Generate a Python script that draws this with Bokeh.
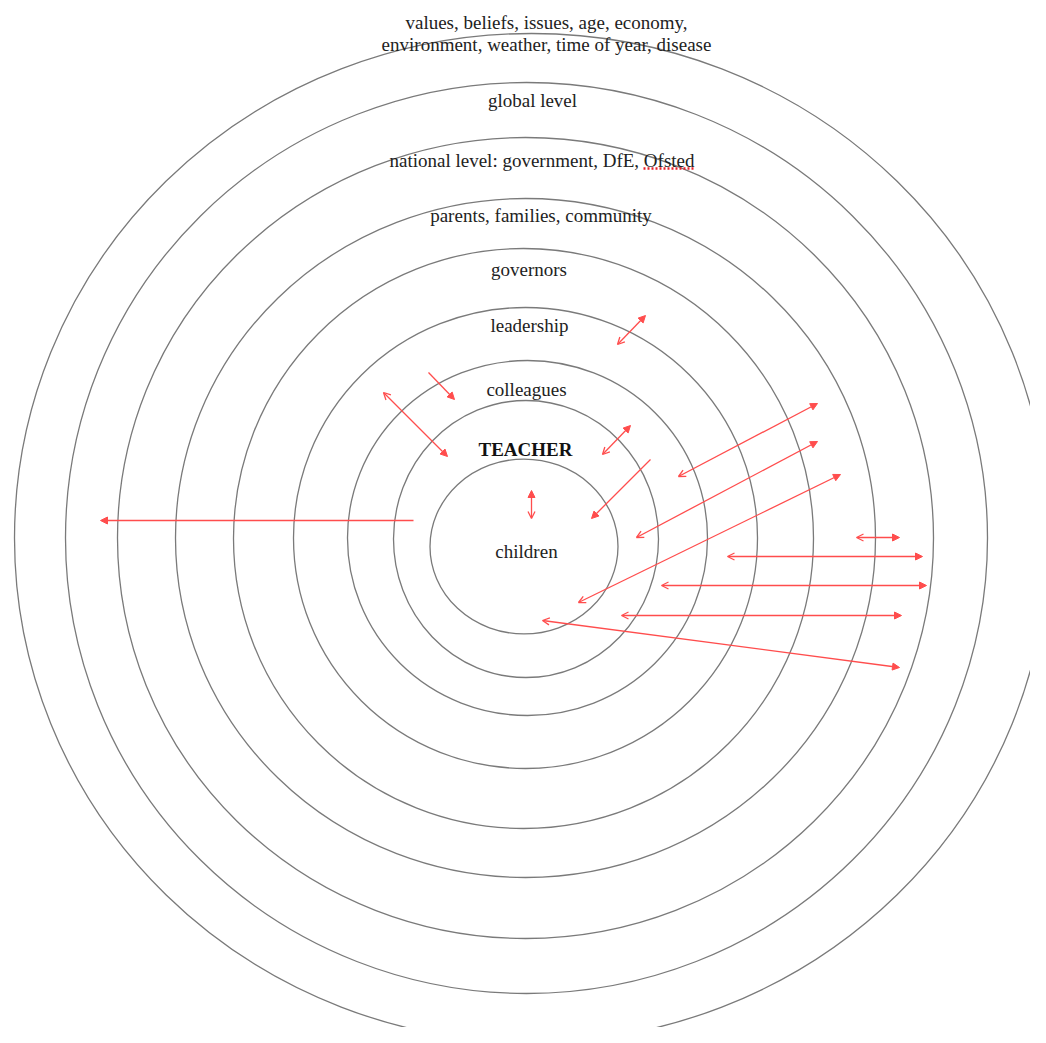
from bokeh.plotting import figure
from bokeh.models import Range1d, Arrow, NormalHead, OpenHead, ColumnDataSource
from bokeh.core.properties import value
from bokeh.embed import file_html
from bokeh.resources import INLINE

# ---- data ----
ring_names = ["children", "TEACHER", "colleagues", "leadership", "governors",
              "parents", "national", "global", "values"]
ring_cx = [523.5, 525.5, 527, 525, 523, 525, 525, 526, 531]
ring_cy = [546, 538.5, 537.5, 537.5, 538, 537.5, 537.5, 537.5, 537.5]
ring_w = [188, 265, 360, 464, 580, 700, 816, 922, 1034]
ring_h = [175, 277, 355, 461, 580, 679, 801, 911, 1009]

label_text = ["values, beliefs, issues, age, economy,",
              "environment, weather, time of year, disease",
              "global level",
              "national level: government, DfE, Ofsted",
              "parents, families, community",
              "governors",
              "leadership",
              "colleagues",
              "children"]
label_x = [546, 546, 532, 541.5, 540.5, 528.5, 529, 526, 526]
label_y = [22, 44, 100, 160, 215, 269, 325, 389, 551]

bold_text = ["TEACHER"]
bold_x = [525]
bold_y = [449]

# double-headed arrows: open head at start, filled head at end
dbl_xs = [531, 383, 617, 602, 678, 636, 578, 856, 727, 661, 621, 542]
dbl_ys = [518, 392, 344, 454, 476, 537, 602, 537, 556, 585, 615, 620]
dbl_xe = [531, 447, 645, 630, 817, 817, 840, 899, 922, 926, 901, 899]
dbl_ye = [490, 456, 315, 425, 403, 441, 474, 537, 556, 585, 615, 667]

# single-headed arrows: filled head at end
sgl_xs = [413, 428, 650]
sgl_ys = [520, 372, 459]
sgl_xe = [100, 454, 591]
sgl_ye = [520, 399, 518]

# spell-check underline under "Ofsted"
squig_x = [643, 694]
squig_y = [168, 168]

RED = "#ff4d4d"
GREY = "#7a7a7a"

p = figure(width=1030, height=1027, output_backend="svg", toolbar_location=None,
           x_range=Range1d(0, 1030), y_range=Range1d(1027, 0), min_border=0)
p.axis.visible = False
p.grid.visible = False
p.outline_line_color = None
p.background_fill_color = "white"

p.ellipse(x=ring_cx, y=ring_cy, width=ring_w, height=ring_h,
          fill_color=None, line_color=GREY, line_width=1.3)

p.text(x=label_x, y=label_y, text=label_text, text_font=value("Liberation Serif"),
       text_font_size="19px", text_align="center", text_baseline="middle",
       text_color="#222222")
p.text(x=bold_x, y=bold_y, text=bold_text, text_font=value("Liberation Serif"),
       text_font_size="19px", text_font_style="bold", text_align="center",
       text_baseline="middle", text_color="#111111")

p.line(x=squig_x, y=squig_y, line_color="#e8202a", line_width=2.5, line_dash="2 2")

dsrc = ColumnDataSource(dict(xs=dbl_xs, ys=dbl_ys, xe=dbl_xe, ye=dbl_ye))
p.add_layout(Arrow(x_start="xs", y_start="ys", x_end="xe", y_end="ye", source=dsrc,
                   line_color=RED, line_width=1.3,
                   start=OpenHead(size=7, line_color=RED, line_width=1.3),
                   end=NormalHead(size=7, fill_color=RED, line_color=RED, line_width=1)))
ssrc = ColumnDataSource(dict(xs=sgl_xs, ys=sgl_ys, xe=sgl_xe, ye=sgl_ye))
p.add_layout(Arrow(x_start="xs", y_start="ys", x_end="xe", y_end="ye", source=ssrc,
                   line_color=RED, line_width=1.3,
                   end=NormalHead(size=7, fill_color=RED, line_color=RED, line_width=1)))

open("out.html", "w").write(file_html(p, INLINE))
